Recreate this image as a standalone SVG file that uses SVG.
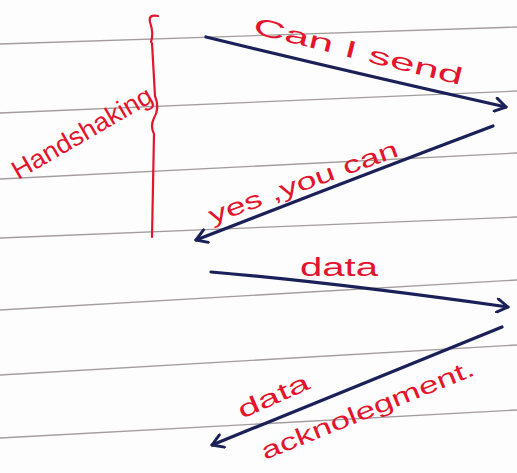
<svg xmlns="http://www.w3.org/2000/svg" width="517" height="473" viewBox="0 0 517 473">
<defs>
<style>
.rule{stroke:#8c8484;stroke-width:1.3;fill:none;opacity:0.8}
.arrow{stroke:#1c2058;stroke-width:3.2;fill:none;stroke-linecap:round;marker-end:url(#head)}
.lbl{fill:#e3142c;font-family:"Liberation Sans","DejaVu Sans",sans-serif;font-size:24px}
.brace{stroke:#e3142c;stroke-width:2.2;fill:none;stroke-linecap:round}
</style>
<marker id="head" viewBox="0 0 12 12" refX="10" refY="6" markerWidth="5" markerHeight="5" orient="auto" markerUnits="strokeWidth">
<path d="M2,1 L10,6 L2,11" stroke="#1c2058" stroke-width="2.2" fill="none" stroke-linecap="round" stroke-linejoin="round"/>
</marker>
</defs>
<rect width="517" height="473" fill="#fdfdfd"/>
<g id="ruling">
<path class="rule" d="M0,44 L517,27"/>
<path class="rule" d="M0,113 L517,91"/>
<path class="rule" d="M0,179 L517,153"/>
<path class="rule" d="M0,238 L517,217"/>
<path class="rule" d="M0,310 L517,280"/>
<path class="rule" d="M0,375 L517,345"/>
<path class="rule" d="M0,438 L517,410"/>
</g>
<g id="connectors">
<path id="c1" class="arrow" d="M206,37 Q350,72 506,107"/>
<path id="c2" class="arrow" d="M493,126 Q350,180 196,240"/>
<path id="c3" class="arrow" d="M211,272 Q330,282 508,307"/>
<path id="c4" class="arrow" d="M502,327 Q360,385 212,445"/>
</g>
<g id="handshaking">
<path class="brace" d="M158,16 Q148,14 150,22 Q154,34 151,42 M152,43 L155,96 Q160,108 154,118 Q150,126 154,134 L152,237"/>
<text class="lbl" style="font-size:26px" transform="translate(18,180) rotate(-30)" textLength="158" lengthAdjust="spacingAndGlyphs">Handshaking</text>
</g>
<g id="label-can-i-send">
<text class="lbl" transform="translate(252,33) rotate(14)" textLength="215" lengthAdjust="spacingAndGlyphs">Can  I  send</text>
</g>
<g id="label-yes">
<text class="lbl" transform="translate(212,224) rotate(-20)" textLength="200" lengthAdjust="spacingAndGlyphs">yes ,you can</text>
</g>
<g id="label-data">
<text class="lbl" style="font-size:26px" x="300" y="276" textLength="78" lengthAdjust="spacingAndGlyphs">data</text>
</g>
<g id="label-ack">
<text class="lbl" transform="translate(242,419) rotate(-24)" textLength="76" lengthAdjust="spacingAndGlyphs">data</text>
<text class="lbl" transform="translate(265,460) rotate(-22)" textLength="228" lengthAdjust="spacingAndGlyphs">acknolegment.</text>
</g>
</svg>
